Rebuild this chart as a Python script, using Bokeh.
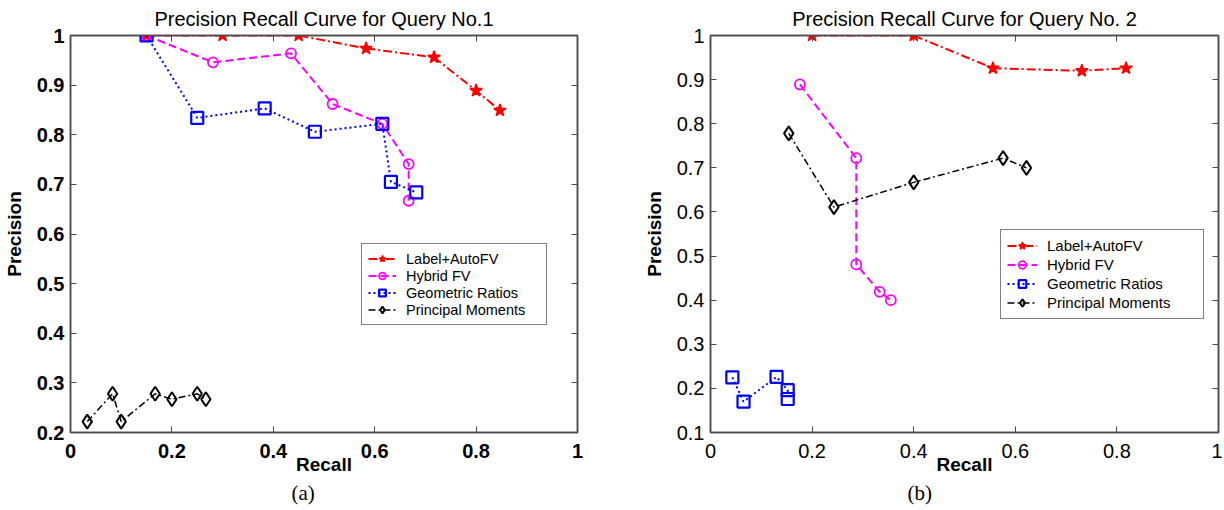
from bokeh.plotting import figure
from bokeh.layouts import row
from bokeh.models import Range1d, LinearAxis, FixedTicker, CustomJSTickFormatter, Title
from bokeh.embed import file_html
from bokeh.resources import INLINE

# ---------------- data ----------------
series_names = ["Label+AutoFV", "Hybrid FV", "Geometric Ratios", "Principal Moments"]

# Query No.1
q1_label_recall = [0.15, 0.30, 0.45, 0.583, 0.717, 0.80, 0.847]
q1_label_prec = [1.0, 1.0, 1.0, 0.974, 0.956, 0.889, 0.849]
q1_hybrid_recall = [0.15, 0.281, 0.435, 0.517, 0.615, 0.667, 0.667]
q1_hybrid_prec = [1.0, 0.946, 0.964, 0.862, 0.822, 0.741, 0.667]
q1_geom_recall = [0.15, 0.25, 0.383, 0.482, 0.615, 0.632, 0.682]
q1_geom_prec = [1.0, 0.834, 0.853, 0.806, 0.822, 0.705, 0.684]
q1_pm_recall = [0.033, 0.083, 0.10, 0.167, 0.20, 0.25, 0.267]
q1_pm_prec = [0.222, 0.278, 0.222, 0.278, 0.267, 0.278, 0.267]

# Query No.2
q2_label_recall = [0.20, 0.40, 0.556, 0.731, 0.818]
q2_label_prec = [1.0, 1.0, 0.926, 0.92, 0.926]
q2_hybrid_recall = [0.176, 0.287, 0.287, 0.333, 0.355]
q2_hybrid_prec = [0.889, 0.722, 0.481, 0.419, 0.40]
q2_geom_recall = [0.043, 0.065, 0.13, 0.152, 0.152]
q2_geom_prec = [0.225, 0.17, 0.226, 0.196, 0.176]
q2_pm_recall = [0.154, 0.243, 0.40, 0.576, 0.622]
q2_pm_prec = [0.778, 0.611, 0.667, 0.722, 0.70]

x_ticks = [0, 0.2, 0.4, 0.6, 0.8, 1]
q1_y_ticks = [0.2, 0.3, 0.4, 0.5, 0.6, 0.7, 0.8, 0.9, 1]
q2_y_ticks = [0.1, 0.2, 0.3, 0.4, 0.5, 0.6, 0.7, 0.8, 0.9, 1]

FONT = "Liberation Sans"
FRAME = "#4a4a4a"

fmt_code = "return String(Math.round(tick*10)/10);"


def build(width, height, borders, ylo, y_ticks, title, caption, cap_off, tick_style, tick_size,
          series, legend_cfg):
    left, right, top, bottom = borders
    p = figure(width=width, height=height, output_backend="svg", toolbar_location=None,
               x_range=Range1d(0, 1), y_range=Range1d(ylo, 1),
               min_border_left=left, min_border_right=right,
               min_border_top=top, min_border_bottom=bottom)
    p.grid.visible = False
    p.background_fill_color = "white"
    p.border_fill_color = "white"
    p.outline_line_color = FRAME
    p.outline_line_width = 1.5

    p.title.text = title
    p.title.text_font = FONT
    p.title.text_font_size = "20px"
    p.title.text_font_style = "normal"
    p.title.text_color = "black"
    p.title.align = "center"
    p.title.vertical_align = "top"
    p.title.standoff = 8

    for ax, ticks in ((p.xaxis[0], x_ticks), (p.yaxis[0], y_ticks)):
        ax.ticker = FixedTicker(ticks=ticks)
        ax.formatter = CustomJSTickFormatter(code=fmt_code)
        ax.major_tick_in = 6
        ax.major_tick_out = 0
        ax.minor_tick_line_color = None
        ax.major_tick_line_color = FRAME
        ax.axis_line_color = FRAME
        ax.axis_line_width = 1.5
        ax.major_label_text_font = FONT
        ax.major_label_text_font_size = tick_size
        ax.major_label_text_font_style = tick_style
        ax.major_label_text_color = "black"
        ax.axis_label_text_font = FONT
        ax.axis_label_text_font_size = "19px"
        ax.axis_label_text_font_style = "bold"
        ax.axis_label_text_color = "black"
    p.xaxis.axis_label = "Recall"
    p.yaxis.axis_label = "Precision"
    p.xaxis.major_label_standoff = 11
    p.xaxis.axis_label_standoff = -7
    p.yaxis.major_label_standoff = 6
    p.yaxis.axis_label_standoff = 9

    # mirrored ticks on top/right
    for loc, ticks in (("above", x_ticks), ("right", y_ticks)):
        ax = LinearAxis(ticker=FixedTicker(ticks=ticks),
                        major_tick_in=6, major_tick_out=0,
                        minor_tick_line_color=None,
                        major_tick_line_color=FRAME,
                        axis_line_color=FRAME, axis_line_width=1.5,
                        major_label_text_font_size="0px",
                        major_label_standoff=0, axis_label_standoff=0)
        ax.formatter = CustomJSTickFormatter(code="return '';")
        p.add_layout(ax, loc)

    styles = [
        dict(color="#ff0000", dash="9 3 2 3", width=2, marker="star", size=13, fill="#ff0000", mlw=1.5),
        dict(color="#ff00ff", dash="8 4", width=2, marker="circle", size=10, fill=None, mlw=1.8),
        dict(color="#0000ff", dash="2 3", width=2, marker="square", size=12, fill=None, mlw=2.2),
        dict(color="#000000", dash="7 3 2 3", width=1.5, marker="diamond", size=14, fill=None, mlw=2),
    ]
    for name, (xs, ys), st in zip(series_names, series, styles):
        p.line(xs, ys, line_color=st["color"], line_dash=st["dash"], line_width=st["width"],
               legend_label=name)
        p.scatter(xs, ys, marker=st["marker"], size=st["size"], line_color=st["color"],
                  fill_color=st["fill"], line_width=st["mlw"], legend_label=name)

    lg = p.legend[0]
    lg.location = legend_cfg["loc"]
    lg.margin = 0
    lg.padding = 6
    lg.spacing = 0
    lg.glyph_width = legend_cfg["gw"]
    lg.glyph_height = legend_cfg["rh"]
    lg.label_height = legend_cfg["rh"]
    lg.label_width = legend_cfg["lw"]
    lg.label_standoff = 10
    lg.label_text_font = FONT
    lg.label_text_font_size = legend_cfg["fs"]
    lg.label_text_color = "black"
    lg.border_line_color = "black"
    lg.border_line_width = 1
    lg.background_fill_color = "white"
    lg.background_fill_alpha = 1

    cap = Title(text=caption, align="left", offset=cap_off, text_font="Liberation Serif",
                text_font_size="21px", text_font_style="normal", text_color="black",
                standoff=2)
    p.add_layout(cap, "below")
    return p


p1 = build(640, 506, (68, 63, 35, 74), 0.2, q1_y_ticks,
           "Precision Recall Curve for Query No.1", "(a)", 221, "bold", "20px",
           [(q1_label_recall, q1_label_prec), (q1_hybrid_recall, q1_hybrid_prec),
            (q1_geom_recall, q1_geom_prec), (q1_pm_recall, q1_pm_prec)],
           dict(loc=(291, 107), gw=28, rh=17, lw=134, fs="14.5px"))

p2 = build(582, 506, (70, 4, 35, 74), 0.1, q2_y_ticks,
           "Precision Recall Curve for Query No. 2", "(b)", 197, "normal", "20px",
           [(q2_label_recall, q2_label_prec), (q2_hybrid_recall, q2_hybrid_prec),
            (q2_geom_recall, q2_geom_prec), (q2_pm_recall, q2_pm_prec)],
           dict(loc=(290, 113), gw=30, rh=19, lw=150, fs="15px"))

layout = row(p1, p2)
open("out.html", "w").write(file_html(layout, INLINE))
